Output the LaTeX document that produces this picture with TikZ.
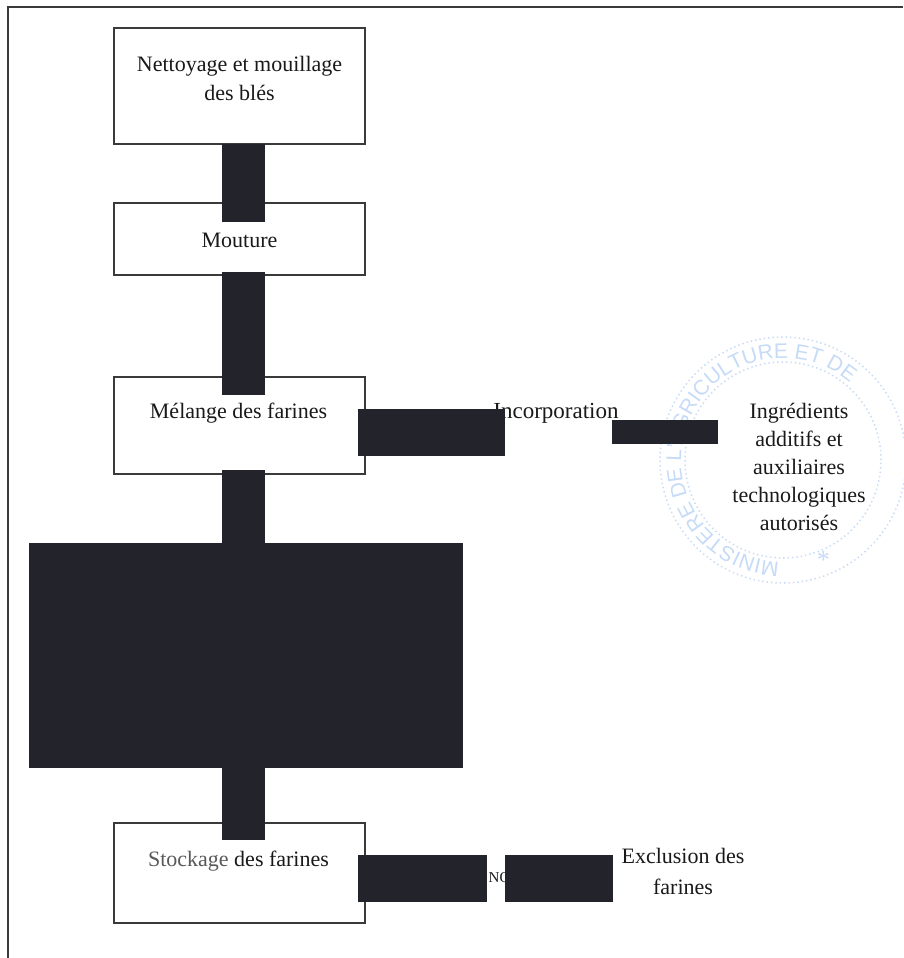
\documentclass[tikz,border=0pt]{standalone}
\usepackage{fontspec}
\setmainfont{Liberation Serif}
\setsansfont{Liberation Sans}
\usetikzlibrary{positioning,decorations.text}
\definecolor{ink}{HTML}{23232B}
\definecolor{edgegray}{HTML}{3A3A3A}
\definecolor{stampblue}{HTML}{C6DBF7}
\tikzset{
  stepbox/.style={draw=edgegray,line width=1.6pt,minimum width=251pt,inner sep=0pt,outer sep=0pt},
  txt/.style={text=black!90,font=\fontsize{22}{29}\selectfont,align=center,inner sep=0pt},
  bar/.style={draw=ink,line width=43pt},
  blockbox/.style={fill=ink,inner sep=0pt,outer sep=0pt},
  ring/.style={draw=stampblue,line width=1.5pt,dash pattern=on 1.4pt off 3pt}
}
\begin{document}
\begin{tikzpicture}[x=1pt,y=-1pt,node distance=59pt]
    \useasboundingbox (0,0) rectangle (903,958);
    \draw[edgegray,line width=1.2pt] (8,958) -- (8,7) -- (903,7);
    % stamp
    \begin{scope}[shift={(783,460)},x=1pt,y=1pt]
        \draw[ring] (0,0) circle (123pt);
        \draw[ring] (0,0) circle (98pt);
        \path[decorate,decoration={text along path,text color=stampblue,
            text={|\sffamily\fontsize{21}{21}\selectfont|MINISTERE DE L'AGRICULTURE ET DE},text align=left}]
            (268:102pt) arc (268:-10:102pt);
        \node[text=stampblue,font=\fontsize{26}{26}\selectfont] (star) at (292:108pt) {*};
    \end{scope}
    % boxes
    \node[stepbox,minimum height=116pt] (clean) at (239.5,86) {};
    \node[stepbox,minimum height=72pt,below=59pt of clean] (mill) {};
    \node[stepbox,minimum height=97pt,below=102pt of mill] (blend) {};
    \node[stepbox,minimum height=100pt,below=349pt of blend] (store) {};
    % texts
    \node[txt] (cleantxt) at ([yshift=8pt]clean.center) {Nettoyage et mouillage\\des blés};
    \node[txt] (milltxt) at ([yshift=-1pt]mill.center) {Mouture};
    \node[txt] (blendtxt) at ([xshift=-1pt,yshift=12pt]blend.center) {Mélange des farines};
    \node[txt] (storetxt) at ([xshift=-1pt,yshift=12pt]store.center) {\textcolor{black!65}{Stockage} des farines};
    \node[txt,font=\fontsize{23}{29}\selectfont] (incorp) at (556,413) {Incorporation};
    \node[txt,font=\fontsize{22}{28}\selectfont] (ingred) at (799,467) {Ingrédients\\additifs et\\auxiliaires\\technologiques\\autorisés};
    \node[txt,font=\fontsize{15}{15}\selectfont] (no) at (499.5,878) {NO};
    \node[txt,font=\fontsize{22}{31}\selectfont] (excl) at (683,871) {Exclusion des\\farines};
    % masked parts
    \node[blockbox,minimum width=434pt,minimum height=225pt] (block) at (246,655.5) {};
    \draw[bar,shorten >=-19pt] ([xshift=4pt]clean.south) -- ([xshift=4pt]mill.north);
    \draw[bar,shorten <=-3pt,shorten >=-18pt] ([xshift=4pt]mill.south) -- ([xshift=4pt]blend.north);
    \draw[bar,shorten <=-4pt] ([xshift=4pt]blend.south) -- ([xshift=4pt]blend.south |- block.north);
    \draw[bar,shorten >=-17pt] ([xshift=4pt]block.south -| store.south) -- ([xshift=4pt]store.north);
    \draw[bar,line width=47pt,shorten <=-7pt] ([yshift=-7pt]blend.east) -- (505,432.5);
    \draw[bar,line width=24pt] (612,432) -- (718,432);
    \draw[bar,line width=47pt,shorten <=-7pt] ([yshift=-5.5pt]store.east) -- (487,878.5);
    \draw[bar,line width=47pt] (505,878.5) -- (613,878.5);
\end{tikzpicture}
\end{document}
